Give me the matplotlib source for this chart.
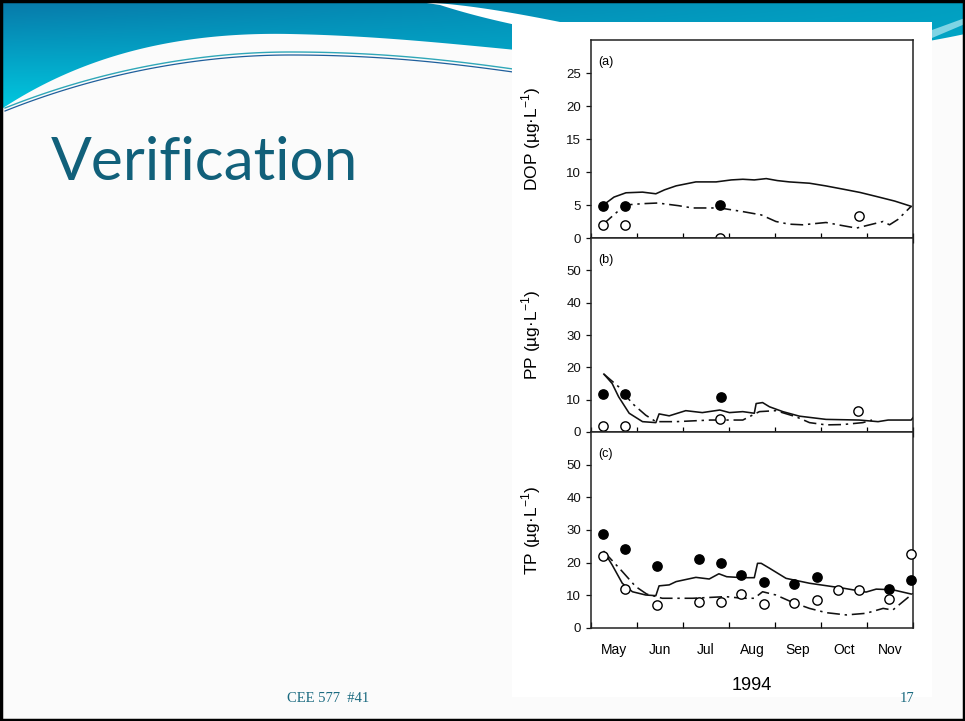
import numpy as np
import matplotlib
matplotlib.use("Agg")
import matplotlib.pyplot as plt
from matplotlib.patches import Polygon, Rectangle

# ---------------- data (x in months since 1 May 1994) ----------------
months = ["May", "Jun", "Jul", "Aug", "Sep", "Oct", "Nov"]
year_label = "1994"
panel_labels = ["(a)", "(b)", "(c)"]
ylabels = [r"DOP (µg·L$^{\mathregular{-1}}$)", r"PP (µg·L$^{\mathregular{-1}}$)", r"TP (µg·L$^{\mathregular{-1}}$)"]
yticks_dop = [0, 5, 10, 15, 20, 25]
yticks_pp = [0, 10, 20, 30, 40, 50]
yticks_tp = [0, 10, 20, 30, 40, 50]

dop_filled_x = [0.25, 0.74, 2.80]
dop_filled_y = [4.9, 4.9, 5.0]
dop_open_x = [0.25, 0.74, 2.80, 5.82]
dop_open_y = [2.0, 2.0, 0.0, 3.3]
dop_solid_x = [0.25, 0.50, 0.76, 1.12, 1.41, 1.60, 1.85, 2.28, 2.72, 3.05, 3.30, 3.55, 3.81, 4.05, 4.31, 4.75, 5.10, 5.48, 5.85, 6.20, 6.60, 6.96]
dop_solid_y = [4.9, 6.2, 6.85, 6.95, 6.7, 7.3, 7.9, 8.5, 8.5, 8.8, 8.9, 8.8, 9.0, 8.7, 8.5, 8.3, 7.9, 7.4, 6.9, 6.3, 5.6, 4.8]
dop_dash_x = [0.25, 0.74, 1.12, 1.45, 1.90, 2.21, 2.80, 3.30, 3.70, 4.02, 4.30, 4.60, 5.11, 5.45, 5.77, 6.06, 6.35, 6.49, 6.67, 6.96]
dop_dash_y = [2.0, 5.0, 5.2, 5.3, 4.9, 4.55, 4.55, 4.0, 3.5, 2.5, 2.1, 2.0, 2.35, 1.9, 1.5, 2.0, 2.5, 2.0, 2.8, 4.8]

pp_filled_x = [0.25, 0.74, 2.83]
pp_filled_y = [11.7, 11.7, 10.9]
pp_open_x = [0.25, 0.74, 2.80, 5.80]
pp_open_y = [1.85, 1.85, 4.0, 6.5]
pp_solid_x = [0.28, 0.46, 0.60, 0.83, 1.12, 1.41, 1.48, 1.70, 2.06, 2.42, 2.80, 3.01, 3.30, 3.55, 3.59, 3.73, 3.88, 4.17, 4.53, 5.11, 5.83, 6.24, 6.46, 6.96, 7.00]
pp_solid_y = [17.9, 15.0, 10.9, 5.8, 3.2, 2.9, 5.6, 5.0, 6.6, 6.0, 6.8, 6.0, 6.3, 5.8, 8.8, 9.1, 7.8, 6.3, 4.9, 3.9, 3.7, 3.2, 3.7, 3.7, 4.4]
pp_dash_x = [0.28, 0.60, 0.90, 1.19, 1.41, 1.85, 2.60, 3.30, 3.66, 4.02, 4.46, 4.75, 5.11, 5.47, 5.91, 6.11]
pp_dash_y = [17.9, 14.0, 8.8, 5.2, 3.2, 3.2, 3.7, 3.7, 6.3, 6.6, 4.7, 2.9, 2.2, 2.3, 2.9, 3.7]

tp_filled_x = [0.26, 0.74, 1.43, 2.35, 2.83, 3.26, 3.75, 4.41, 4.91, 6.47, 6.96]
tp_filled_y = [28.8, 24.1, 19.0, 21.1, 20.0, 16.3, 14.2, 13.4, 15.5, 11.9, 14.7]
tp_open_x = [0.26, 0.74, 1.43, 2.35, 2.83, 3.26, 3.75, 4.41, 4.91, 5.37, 5.82, 6.47, 6.96]
tp_open_y = [21.9, 12.0, 7.1, 8.1, 8.1, 10.3, 7.4, 7.6, 8.6, 11.7, 11.7, 8.8, 22.7]
tp_solid_x = [0.28, 0.46, 0.68, 0.90, 1.19, 1.41, 1.48, 1.70, 1.85, 2.28, 2.57, 2.78, 2.95, 3.30, 3.55, 3.62, 3.70, 3.88, 4.24, 4.75, 5.48, 5.98, 6.20, 6.56, 6.96]
tp_solid_y = [23.4, 19.3, 13.7, 11.1, 10.1, 9.9, 12.9, 13.2, 14.2, 15.5, 15.0, 16.6, 15.7, 15.4, 15.4, 19.8, 19.8, 18.3, 15.2, 13.7, 12.2, 11.0, 11.9, 11.7, 10.4]
tp_dash_x = [0.28, 0.68, 0.97, 1.21, 1.55, 2.21, 2.93, 3.30, 3.55, 3.73, 4.02, 4.39, 4.75, 5.11, 5.55, 5.98, 6.35, 6.56, 7.00]
tp_dash_y = [23.4, 17.3, 12.7, 10.4, 9.1, 9.1, 9.6, 9.1, 9.1, 11.1, 10.1, 7.8, 6.0, 4.7, 4.0, 4.5, 6.0, 5.5, 10.6]

title_text = "Verification"
footer_left = "CEE 577  #41"
footer_right = "17"


def bezier(p0, p1, p2, p3, n=60):
    t = np.linspace(0, 1, n)[:, None]
    p0, p1, p2, p3 = (np.array(p, float) for p in (p0, p1, p2, p3))
    return (1 - t) ** 3 * p0 + 3 * (1 - t) ** 2 * t * p1 + 3 * (1 - t) * t ** 2 * p2 + t ** 3 * p3


# ---------------- figure ----------------
W, H = 965, 721
fig = plt.figure(figsize=(W / 100, H / 100), dpi=100)
fig.patch.set_facecolor("#fbfbfb")

bg = fig.add_axes([0, 0, 1, 1], zorder=0)
bg.set_xlim(0, W)
bg.set_ylim(H, 0)
bg.axis("off")

# header gradient band
gx = np.linspace(0, 1, 400)[None, :]
gy = np.linspace(0, 1, 120)[:, None]
top_c = np.array([0.03, 0.47, 0.66])
bot_c = np.array([0.00, 0.82, 0.90])
right_c = np.array([0.00, 0.66, 0.78])
grad = (top_c[None, None, :] * (1 - gy[..., None]) + bot_c[None, None, :] * gy[..., None])
grad = grad * (1 - 0.8 * gx[..., None]) + right_c[None, None, :] * (0.8 * gx[..., None])
im = bg.imshow(grad, extent=(0, W, 120, 0), aspect="auto", zorder=1)
edge1 = bezier((0, 110), (90, 50), (190, 32), (290, 34))
edge2 = bezier((290, 34), (390, 36), (470, 46), (600, 58))
edge3 = bezier((600, 58), (760, 66), (880, 52), (965, 34))
edge = np.vstack([edge1, edge2, edge3])[::-1]
band_pts = np.vstack([[(0, 0), (W, 0)], edge])
band = Polygon(band_pts, closed=True, transform=bg.transData, facecolor="none", edgecolor="none")
bg.add_patch(band)
im.set_clip_path(band)
stripe_top = bezier((420, 2), (460, 4), (500, 10), (560, 22))
stripe_bot = bezier((560, 34), (520, 26), (480, 18), (440, 5))
bg.add_patch(Polygon(np.vstack([stripe_top, stripe_bot]), closed=True,
                     facecolor="white", edgecolor="none", zorder=2))
bg.add_patch(Polygon([(932, 30), (965, 18), (965, 24), (932, 38)], closed=True,
                     facecolor="#7fd4e4", edgecolor="none", zorder=2))
# thin swoosh lines
l1 = np.vstack([bezier((5, 108), (100, 70), (200, 52), (290, 52)),
                bezier((290, 52), (380, 52), (450, 60), (520, 70))])
bg.plot(l1[:, 0], l1[:, 1], color="#2fa7b8", lw=1.0, zorder=3)
bg.plot(l1[:, 0], l1[:, 1] + 3, color="#1f5f9c", lw=0.9, zorder=3)

# white picture area
bg.add_patch(Rectangle((512, 22), 420, 675, facecolor="white", edgecolor="none", zorder=4))

# slide border
bg.add_patch(Rectangle((1, 1), W - 2, H - 2, facecolor="none", edgecolor="black", lw=2.5, zorder=10))

# title and footer
bg.text(51, 180, title_text, fontsize=43.5, color="#11607a", family="Lato",
        ha="left", va="baseline", zorder=5)
bg.text(328, 698, footer_left, fontsize=10.5, color="#1a6a80", family="Liberation Serif",
        ha="center", va="center", zorder=5)
bg.text(907, 698, footer_right, fontsize=10.5, color="#1a6a80", family="Liberation Serif",
        ha="center", va="center", zorder=5)

# ---------------- panels ----------------
left = 591 / W
width = 322 / W
rows = [(40, 238), (238, 432), (432, 628)]
ylims = [30, 60, 60]
ytick_sets = [yticks_dop, yticks_pp, yticks_tp]
series = [
    (dop_filled_x, dop_filled_y, dop_open_x, dop_open_y, dop_solid_x, dop_solid_y, dop_dash_x, dop_dash_y),
    (pp_filled_x, pp_filled_y, pp_open_x, pp_open_y, pp_solid_x, pp_solid_y, pp_dash_x, pp_dash_y),
    (tp_filled_x, tp_filled_y, tp_open_x, tp_open_y, tp_solid_x, tp_solid_y, tp_dash_x, tp_dash_y),
]
font = "Liberation Sans"
dash_style = (0, (8, 3, 1.5, 3))

for i, (top, bot) in enumerate(rows):
    ax = fig.add_axes([left, 1 - bot / H, width, (bot - top) / H], zorder=6)
    ax.set_facecolor("white")
    fx, fy, ox, oy, sxs, sys_, dx, dy = series[i]
    ax.plot(sxs, sys_, color="#111111", lw=1.15, zorder=3)
    ax.plot(dx, dy, color="#111111", lw=1.15, linestyle=dash_style, zorder=3)
    ax.plot(fx, fy, linestyle="none", marker="o", ms=6.7, mfc="black", mec="black", zorder=4, clip_on=False)
    ax.plot(ox, oy, linestyle="none", marker="o", ms=6.7, mfc="white", mec="black", mew=1.0, zorder=4, clip_on=False)
    ax.set_xlim(0, 7)
    ax.set_ylim(0, ylims[i])
    ax.set_yticks(ytick_sets[i])
    ax.set_yticklabels([str(t) for t in ytick_sets[i]], family=font, fontsize=9.5)
    ax.tick_params(axis="y", direction="out", length=3.5, width=0.9, pad=3.5, colors="#111111")
    ax.set_xticks(range(8))
    ax.set_xticks([m + 0.5 for m in range(7)], minor=True)
    ax.tick_params(axis="x", which="major", direction="inout" if i < 2 else "in",
                   length=7 if i < 2 else 4, width=0.9, labelbottom=False)
    if i == 2:
        ax.set_xticklabels(months, minor=True, family=font, fontsize=10)
        ax.tick_params(axis="x", which="minor", length=0, pad=11)
    else:
        ax.tick_params(axis="x", which="minor", length=0, labelbottom=False)
    for sp in ax.spines.values():
        sp.set_linewidth(1.1)
        sp.set_color("#222222")
    ax.set_ylabel(ylabels[i], family=font, fontsize=12.5)
    ax.yaxis.set_label_coords(-0.15, 0.5)
    ax.text(0.022, 0.92, panel_labels[i], transform=ax.transAxes, family=font,
            fontsize=9, ha="left", va="top")

fig.text(752 / W, 1 - 686 / H, year_label, family=font, fontsize=13, ha="center", va="center", zorder=7)

fig.savefig("out.png", dpi=100, facecolor=fig.get_facecolor())
